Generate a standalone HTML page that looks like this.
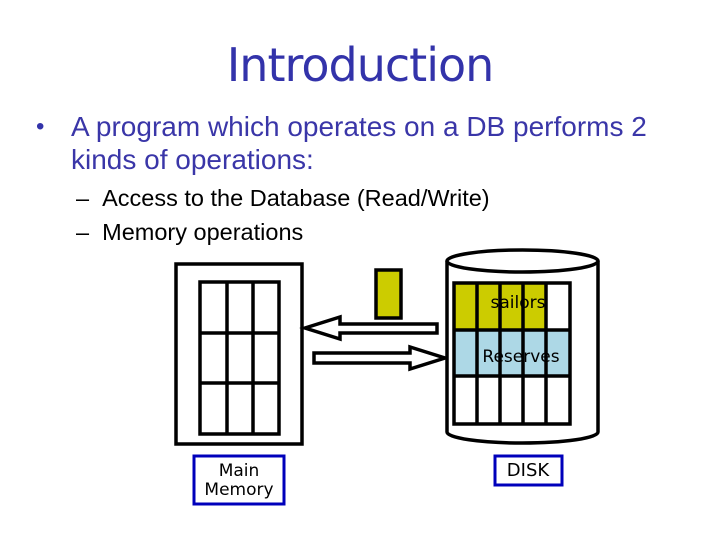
<!DOCTYPE html>
<html><head><style>
body{margin:0;width:720px;height:540px;background:#fff;overflow:hidden;position:relative;font-family:"Liberation Sans",sans-serif}
.t{position:absolute;left:0;width:720px;text-align:center;top:38px;font-family:"DejaVu Sans","Liberation Sans",sans-serif;font-size:46px;color:#3333aa;letter-spacing:-1px}
.p{position:absolute;font-size:28px;color:#3333aa;line-height:33px}
.s{position:absolute;font-size:23.5px;color:#000;line-height:34px}
</style></head><body>
<div class="t">Introduction</div>
<div class="p" style="left:36px;top:110px;font-size:24px">•</div>
<div class="p" style="left:71px;top:110px;color:#3a36a8">A program which operates on a DB performs 2<br>kinds of operations:</div>
<div class="s" style="left:76px;top:181px">–&nbsp;&nbsp;Access to the Database (Read/Write)<br>–&nbsp;&nbsp;Memory operations</div>
<svg width="720" height="540" style="position:absolute;left:0;top:0">
<g stroke="#000" stroke-width="3.5" fill="#fff">
<rect x="176" y="264" width="126" height="180"/>
<rect x="200" y="282" width="79" height="152"/>
<line x1="227" y1="282" x2="227" y2="434"/><line x1="253" y1="282" x2="253" y2="434"/>
<line x1="200" y1="333" x2="279" y2="333"/><line x1="200" y1="383" x2="279" y2="383"/>
<rect x="376" y="270" width="25" height="48" fill="#cccc00"/>
<polygon points="305,328 340,317 340,324 437,324 437,333 340,333 340,339"/>
<polygon points="314,353 410,353 410,347 445,358 410,369 410,363 314,363"/>
<path d="M447,261 L447,432 A75.5,11 0 0 0 598,432 L598,261" />
<ellipse cx="522.5" cy="261" rx="75.5" ry="11"/>
</g>
<rect x="454" y="283" width="92" height="47" fill="#cccc00"/>
<rect x="454" y="330" width="116" height="46" fill="#add8e6"/>
<g stroke="#000" stroke-width="3.5" fill="none">
<rect x="454" y="283" width="116" height="141"/>
<line x1="477" y1="283" x2="477" y2="424"/><line x1="500" y1="283" x2="500" y2="424"/>
<line x1="523" y1="283" x2="523" y2="424"/><line x1="546" y1="283" x2="546" y2="424"/>
<line x1="454" y1="330" x2="570" y2="330"/><line x1="454" y1="376" x2="570" y2="376"/>
</g>
<g font-family="DejaVu Sans,Liberation Sans,sans-serif" font-size="17" fill="#000" text-anchor="middle">
<text x="518" y="308">sailors</text>
<text x="521" y="362">Reserves</text>
</g>
<g stroke="#0000bb" stroke-width="3" fill="#fff">
<rect x="194" y="456" width="90" height="48"/>
<rect x="495" y="456" width="67" height="29"/>
</g>
<g font-family="DejaVu Sans,Liberation Sans,sans-serif" font-size="17" fill="#000" text-anchor="middle">
<text x="239" y="476">Main</text><text x="239" y="495">Memory</text>
<text x="528" y="476" font-size="18">DISK</text>
</g>
</svg>
</body></html>
